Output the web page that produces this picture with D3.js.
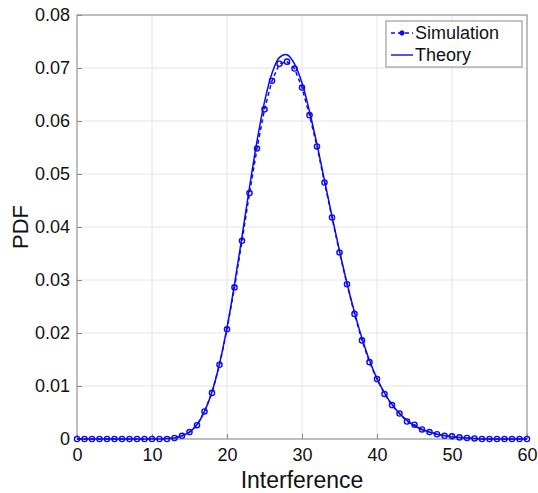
<!DOCTYPE html>
<html>
<head>
<meta charset="utf-8">
<script src="https://cdn.jsdelivr.net/npm/d3@7"></script>
<style>
  body { margin: 0; background: #fff; }
  svg { display: block; }
</style>
</head>
<body>
<div id="chart"></div>
<script>
// x positions (interference) and PDF values
const xValues = d3.range(0, 61);

const simulation = [
  0, 0, 0, 0, 0, 0, 0, 0, 0, 0,
  0, 0, 0, 0.0002, 0.0006, 0.0013, 0.0026, 0.0052, 0.0087, 0.0140,
  0.0207, 0.0286, 0.0374, 0.0464, 0.0548, 0.0622, 0.0676, 0.0708, 0.0712, 0.0699,
  0.0663, 0.0611, 0.0552, 0.0484, 0.0418, 0.0352, 0.0292, 0.0236, 0.0186, 0.0145,
  0.0113, 0.0085, 0.0064, 0.0048, 0.0033, 0.0027, 0.0018, 0.0013, 0.0009, 0.0006,
  0.0005, 0.0003, 0.0002, 0.0001, 0, 0, 0, 0, 0, 0, 0
];

const theory = [
  0, 0, 0, 0, 0, 0, 0, 0, 0, 0,
  0, 0, 0.0001, 0.0002, 0.0006, 0.0013, 0.0027, 0.0052, 0.0089, 0.0142,
  0.0210, 0.0292, 0.0382, 0.0475, 0.0562, 0.0636, 0.0690, 0.0720, 0.0725, 0.0708,
  0.0672, 0.0618, 0.0556, 0.0488, 0.0420, 0.0355, 0.0294, 0.0239, 0.0190, 0.0148,
  0.0114, 0.0087, 0.0065, 0.0048, 0.0035, 0.0025, 0.0018, 0.0013, 0.0009, 0.0006,
  0.0004, 0.0003, 0.0002, 0.0001, 0, 0, 0, 0, 0, 0, 0
];

const xTicks = [0, 10, 20, 30, 40, 50, 60];
const yTicks = [0, 0.01, 0.02, 0.03, 0.04, 0.05, 0.06, 0.07, 0.08];
const legendLabels = ['Simulation', 'Theory'];

const BLUE = '#0a0af5';
const GRID = '#e4e4e4';
const AXIS = '#8a8a8a';
const FONT = '"Liberation Sans", Arial, sans-serif';

const size = { width: 538, height: 493 };
const margin = { top: 15, right: 11, bottom: 54, left: 77 };
const width = size.width - margin.left - margin.right;
const height = size.height - margin.top - margin.bottom;

const svg = d3.select('#chart')
  .append('svg')
  .attr('width', size.width)
  .attr('height', size.height);

const g = svg.append('g')
  .attr('transform', `translate(${margin.left},${margin.top})`);

const xScale = d3.scaleLinear().domain([0, 60]).range([0, width]);
const yScale = d3.scaleLinear().domain([0, 0.08]).range([height, 0]);

// grid
g.append('g')
  .selectAll('line')
  .data(xTicks)
  .join('line')
  .attr('x1', d => xScale(d)).attr('x2', d => xScale(d))
  .attr('y1', 0).attr('y2', height)
  .attr('stroke', GRID).attr('stroke-width', 1);

g.append('g')
  .selectAll('line')
  .data(yTicks)
  .join('line')
  .attr('x1', 0).attr('x2', width)
  .attr('y1', d => yScale(d)).attr('y2', d => yScale(d))
  .attr('stroke', GRID).attr('stroke-width', 1);

// axes
const xAxis = d3.axisBottom(xScale).tickValues(xTicks).tickSizeInner(-5).tickSizeOuter(0).tickPadding(9);
const yAxis = d3.axisLeft(yScale).tickValues(yTicks).tickSizeInner(-5).tickSizeOuter(0).tickPadding(7)
  .tickFormat(d => d === 0 ? '0' : d3.format('.2f')(d));

g.append('g')
  .attr('class', 'x-axis')
  .attr('transform', `translate(0,${height})`)
  .call(xAxis);

g.append('g')
  .attr('class', 'y-axis')
  .call(yAxis);

g.selectAll('.x-axis text, .y-axis text')
  .attr('font-family', FONT)
  .attr('font-size', 18)
  .attr('fill', '#111');
g.selectAll('.x-axis .tick line, .y-axis .tick line').attr('stroke', AXIS);
g.selectAll('.domain').remove();

// box
g.append('rect')
  .attr('x', 0).attr('y', 0)
  .attr('width', width).attr('height', height)
  .attr('fill', 'none')
  .attr('stroke', AXIS)
  .attr('stroke-width', 1);

// curves
const line = d3.line()
  .x((d, i) => xScale(xValues[i]))
  .y(d => yScale(d))
  .curve(d3.curveCatmullRom);

g.append('path')
  .datum(theory)
  .attr('fill', 'none')
  .attr('stroke', BLUE)
  .attr('stroke-width', 1.5)
  .attr('d', line);

g.append('path')
  .datum(simulation)
  .attr('fill', 'none')
  .attr('stroke', BLUE)
  .attr('stroke-width', 1.5)
  .attr('stroke-dasharray', '4,3')
  .attr('d', line.curve(d3.curveLinear));

g.append('g')
  .selectAll('circle')
  .data(simulation)
  .join('circle')
  .attr('cx', (d, i) => xScale(xValues[i]))
  .attr('cy', d => yScale(d))
  .attr('r', 2.6)
  .attr('fill', 'none')
  .attr('stroke', BLUE)
  .attr('stroke-width', 1.4);

// axis labels
svg.append('text')
  .attr('x', margin.left + width / 2)
  .attr('y', 488)
  .attr('text-anchor', 'middle')
  .attr('font-family', FONT)
  .attr('font-size', 23)
  .attr('fill', '#111')
  .text('Interference');

svg.append('text')
  .attr('transform', `translate(28,${margin.top + yScale(0.04)}) rotate(-90)`)
  .attr('text-anchor', 'middle')
  .attr('font-family', FONT)
  .attr('font-size', 22)
  .attr('fill', '#111')
  .text('PDF');

// legend
const legend = svg.append('g').attr('transform', 'translate(386,21)');
legend.append('rect')
  .attr('width', 136).attr('height', 46)
  .attr('fill', '#fff')
  .attr('stroke', AXIS)
  .attr('stroke-width', 1);

legend.append('line')
  .attr('x1', 5).attr('x2', 27).attr('y1', 12).attr('y2', 12)
  .attr('stroke', BLUE).attr('stroke-width', 1.4).attr('stroke-dasharray', '4,3');
legend.append('circle')
  .attr('cx', 16).attr('cy', 12).attr('r', 2.2)
  .attr('fill', BLUE).attr('stroke', BLUE);
legend.append('line')
  .attr('x1', 5).attr('x2', 27).attr('y1', 34).attr('y2', 34)
  .attr('stroke', BLUE).attr('stroke-width', 1.4);

legend.selectAll('text.lbl')
  .data(legendLabels)
  .join('text')
  .attr('class', 'lbl')
  .attr('x', 29)
  .attr('y', (d, i) => 12 + i * 22)
  .attr('dy', '0.35em')
  .attr('font-family', FONT)
  .attr('font-size', 18)
  .attr('fill', '#111')
  .text(d => d);
</script>
</body>
</html>
